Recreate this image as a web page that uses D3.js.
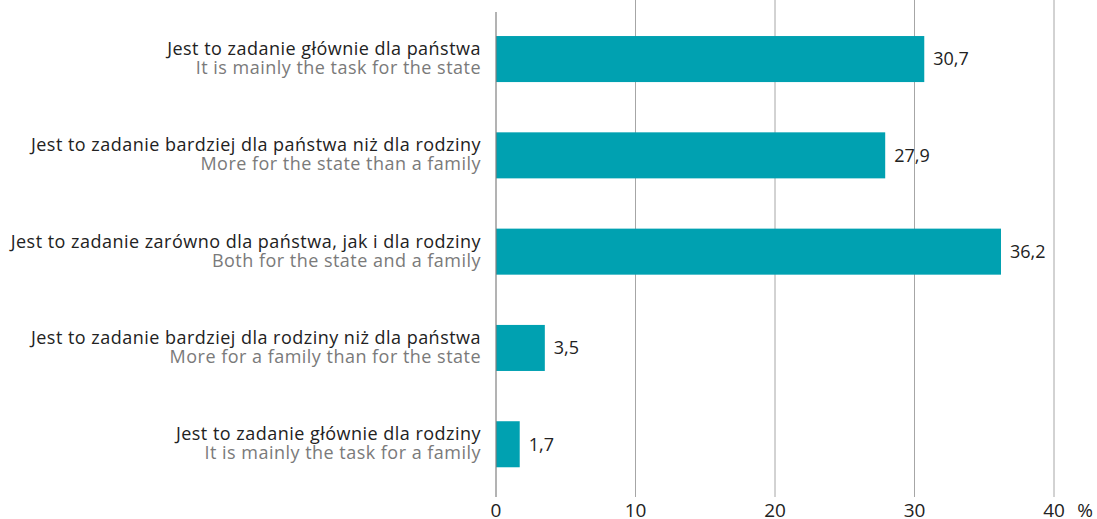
<!DOCTYPE html>
<html>
<head>
<meta charset="utf-8">
<script src="https://cdn.jsdelivr.net/npm/d3@7"></script>
<style>
	body { margin: 0; background: #fff; }
	svg text { font-family: "Open Sans", sans-serif; }
</style>
</head>
<body>
<svg id="chart"></svg>
<script>
// Chart data
const labelsPl = [
	'Jest to zadanie głównie dla państwa',
	'Jest to zadanie bardziej dla państwa niż dla rodziny',
	'Jest to zadanie zarówno dla państwa, jak i dla rodziny',
	'Jest to zadanie bardziej dla rodziny niż dla państwa',
	'Jest to zadanie głównie dla rodziny'
];
const labelsEn = [
	'It is mainly the task for the state',
	'More for the state than a family',
	'Both for the state and a family',
	'More for a family than for the state',
	'It is mainly the task for a family'
];
const values = [30.7, 27.9, 36.2, 3.5, 1.7];
const ticks = [0, 10, 20, 30, 40];

const width = 1097, height = 519;
let svg = d3.select('#chart')
	.attr('width', width)
	.attr('height', height);

let x = d3.scaleLinear().domain([0, 40]).range([496, 1054]);
let y = d3.scaleBand()
	.domain(d3.range(values.length))
	.range([10.9, 492.4])
	.paddingInner(0.522)
	.paddingOuter(0.261);

const fmt = (v) => String(v).replace('.', ',');

// gridlines
svg.append('g')
	.selectAll('line')
	.data(ticks.slice(1))
	.enter()
	.append('line')
	.attr('x1', (d) => x(d)).attr('x2', (d) => x(d))
	.attr('y1', 0).attr('y2', 497)
	.attr('stroke', '#a6a6a6')
	.attr('stroke-width', 1);

// bars
svg.append('g')
	.selectAll('rect')
	.data(values)
	.enter()
	.append('rect')
	.attr('x', x(0))
	.attr('y', (d, i) => y(i))
	.attr('width', (d) => x(d) - x(0))
	.attr('height', y.bandwidth())
	.attr('fill', '#00a1b1');

// zero axis
svg.append('line')
	.attr('x1', x(0)).attr('x2', x(0))
	.attr('y1', 12).attr('y2', 497)
	.attr('stroke', '#808080')
	.attr('stroke-width', 1.2);

// value labels
svg.append('g')
	.selectAll('text')
	.data(values)
	.enter()
	.append('text')
	.attr('x', (d) => x(d) + 9)
	.attr('y', (d, i) => y(i) + y.bandwidth() / 2)
	.attr('dy', '0.35em')
	.attr('font-size', 18)
	.attr('fill', '#222')
	.text(fmt);

// category labels
let cat = svg.append('g')
	.selectAll('text')
	.data(values)
	.enter()
	.append('text')
	.attr('text-anchor', 'end')
	.attr('font-size', 18)
	.attr('letter-spacing', 0.48);
cat.append('tspan')
	.attr('x', 481)
	.attr('y', (d, i) => y(i) + y.bandwidth() / 2 - 4)
	.attr('fill', '#222')
	.text((d, i) => labelsPl[i]);
cat.append('tspan')
	.attr('x', 481)
	.attr('y', (d, i) => y(i) + y.bandwidth() / 2 + 15)
	.attr('fill', '#7a7a7a')
	.text((d, i) => labelsEn[i]);

// x tick labels
svg.append('g')
	.selectAll('text')
	.data(ticks)
	.enter()
	.append('text')
	.attr('x', (d) => x(d))
	.attr('y', 517)
	.attr('text-anchor', 'middle')
	.attr('font-size', 19)
	.attr('fill', '#222')
	.text((d) => d);

svg.append('text')
	.attr('x', 1085)
	.attr('y', 517)
	.attr('text-anchor', 'middle')
	.attr('font-size', 19)
	.attr('fill', '#222')
	.text('%');
</script>
</body>
</html>
